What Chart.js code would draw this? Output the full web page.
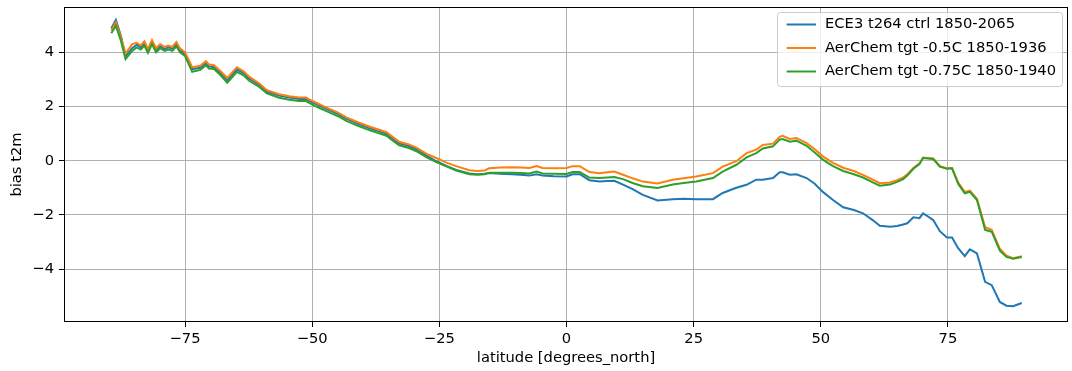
<!DOCTYPE html>
<html>
<head>
<meta charset="utf-8">
<script src="https://cdn.jsdelivr.net/npm/chart.js@4.4.1/dist/chart.umd.min.js"></script>
<style>
  body { margin: 0; background: #fff; }
</style>
</head>
<body>
<canvas id="myChart" width="1072" height="371"></canvas>
<script>
// latitude grid (degrees north)
var lats = [
  -89.5, -88.6, -87.6, -86.7, -85.4, -84.5, -83.7, -83, -82.3, -81.5,
  -80.7, -79.9, -79, -78.3, -77.5, -76.7, -76, -75, -73.6, -72,
  -70.9, -70.3, -69.3, -68, -66.7, -64.8, -63.5, -62.4, -60.4, -58.9,
  -56.5, -54.5, -52.6, -51.2, -50.6, -49, -47.2, -45, -43.3, -41,
  -38.8, -37, -35.4, -34, -32.9, -31, -29.5, -27.5, -25.6, -23.5,
  -21.7, -19.1, -17.5, -16.1, -15.2, -13, -10.6, -9, -7.3, -5.9,
  -4.7, -2.5, 0, 1.2, 2.6, 4.5, 6.5, 8, 9.4, 11.1,
  13, 15, 17.9, 20.9, 23, 25.5, 28.8, 30.7, 33.4, 35.4,
  37.3, 38.6, 40.6, 41.9, 42.5, 43.9, 45.2, 47.2, 48.8, 50.4,
  52.4, 54.4, 56.5, 58.3, 60.2, 61.6, 63.6, 65, 66.2, 67,
  68.2, 69.4, 70.1, 71, 72.1, 73.4, 74.8, 75.8, 77, 78.3,
  79.3, 80.7, 82.3, 83.6, 85.2, 86.5, 87.8, 89.5
];

// ECE3 t264 ctrl 1850-2065
var ctrl = [
  4.88, 5.2, 4.6, 3.85, 4.15, 4.28, 4.18, 4.33, 4.05, 4.38,
  4.08, 4.22, 4.12, 4.18, 4.13, 4.3, 4.08, 3.93, 3.38, 3.43,
  3.6, 3.48, 3.45, 3.23, 2.97, 3.37, 3.23, 3.03, 2.8, 2.55,
  2.4, 2.33, 2.28, 2.28, 2.21, 2.07, 1.91, 1.73, 1.55, 1.37,
  1.2, 1.1, 0.99, 0.79, 0.64, 0.54, 0.42, 0.19, -0.02, -0.2,
  -0.34, -0.47, -0.5, -0.48, -0.45, -0.48, -0.5, -0.52, -0.55, -0.5,
  -0.55, -0.57, -0.58, -0.5, -0.5, -0.72, -0.77, -0.75, -0.74, -0.88,
  -1.05, -1.26, -1.47, -1.42, -1.4, -1.42, -1.42, -1.19, -1.0, -0.89,
  -0.7, -0.7, -0.64, -0.43, -0.43, -0.52, -0.5, -0.64, -0.85, -1.15,
  -1.45, -1.72, -1.82, -1.94, -2.19, -2.4, -2.44, -2.41, -2.35, -2.31,
  -2.09, -2.12, -1.94, -2.05, -2.19, -2.6, -2.83, -2.83, -3.23, -3.52,
  -3.27, -3.42, -4.47, -4.59, -5.21, -5.35, -5.37, -5.25
];

// AerChem tgt -0.5C 1850-1936
var tgt05 = [
  4.8, 5.1, 4.55, 3.95, 4.3, 4.35, 4.25, 4.4, 4.12, 4.45,
  4.15, 4.3, 4.2, 4.25, 4.2, 4.38, 4.15, 4.0, 3.45, 3.5,
  3.67, 3.55, 3.52, 3.3, 3.05, 3.45, 3.3, 3.1, 2.85, 2.6,
  2.45, 2.38, 2.33, 2.33, 2.26, 2.12, 1.96, 1.78, 1.6, 1.42,
  1.26, 1.15, 1.05, 0.85, 0.7, 0.6, 0.48, 0.25, 0.1, -0.08,
  -0.2, -0.35, -0.38, -0.36, -0.28, -0.25, -0.24, -0.25, -0.27, -0.2,
  -0.27, -0.28, -0.27, -0.2, -0.2, -0.42, -0.46, -0.43, -0.4, -0.52,
  -0.65, -0.77, -0.84, -0.7, -0.65, -0.58, -0.46, -0.22, -0.02, 0.28,
  0.41, 0.58, 0.63, 0.88, 0.92, 0.8, 0.84, 0.65, 0.42, 0.16,
  -0.08, -0.26, -0.38, -0.52, -0.7, -0.83, -0.8, -0.72, -0.62, -0.5,
  -0.27, -0.1, 0.12, 0.1, 0.08, -0.2, -0.28, -0.27, -0.8, -1.15,
  -1.1, -1.4, -2.45, -2.55, -3.25, -3.5, -3.6, -3.52
];

// AerChem tgt -0.75C 1850-1940
var tgt075 = [
  4.7, 4.98, 4.42, 3.75, 4.05, 4.18, 4.1, 4.25, 3.98, 4.3,
  4.0, 4.15, 4.05, 4.1, 4.05, 4.22, 4.0, 3.86, 3.28, 3.35,
  3.52, 3.4, 3.38, 3.15, 2.88, 3.28, 3.15, 2.95, 2.72, 2.48,
  2.32, 2.25, 2.2, 2.2, 2.13, 1.98, 1.83, 1.65, 1.47, 1.29,
  1.13, 1.02, 0.92, 0.72, 0.57, 0.47, 0.35, 0.12, -0.05, -0.22,
  -0.36, -0.5, -0.52, -0.5, -0.44, -0.44, -0.44, -0.45, -0.47, -0.4,
  -0.47, -0.48, -0.49, -0.42, -0.42, -0.62, -0.64, -0.62, -0.6, -0.68,
  -0.82, -0.94, -1.01, -0.88, -0.82, -0.77, -0.64, -0.4, -0.15, 0.12,
  0.28, 0.45, 0.53, 0.78, 0.8, 0.7, 0.74, 0.55, 0.3, 0.04,
  -0.2, -0.38, -0.5, -0.62, -0.8, -0.92, -0.88, -0.78, -0.68, -0.55,
  -0.3, -0.12, 0.1, 0.08, 0.06, -0.22, -0.3, -0.28, -0.85, -1.2,
  -1.15, -1.45, -2.55, -2.62, -3.32, -3.55, -3.62, -3.55
];

var seriesLabels = ['ECE3 t264 ctrl 1850-2065', 'AerChem tgt -0.5C 1850-1936', 'AerChem tgt -0.75C 1850-1940'];
var xTicks = [-75, -50, -25, 0, 25, 50, 75];
var yTicks = [-4, -2, 0, 2, 4];

function pts(vals) {
  return vals.map(function (v, i) { return { x: lats[i], y: v }; });
}
function minus(v) { return String(v).replace('-', '\u2212'); }

var FONT = { family: '"DejaVu Sans"', size: 14.7 };

// matplotlib-like frame and legend in the upper right
var mplLegend = {
  id: 'mplLegend',
  afterDraw: function (chart) {
    var ctx = chart.ctx, a = chart.chartArea;
    ctx.save();
    // spines
    ctx.strokeStyle = '#000';
    ctx.lineWidth = 1;
    ctx.strokeRect(Math.round(a.left) + 0.5, Math.round(a.top) + 0.5,
      Math.round(a.right - a.left) - 1, Math.round(a.bottom - a.top) - 1);

    ctx.font = FONT.size + 'px "DejaVu Sans"';
    var ds = chart.data.datasets;
    var w = 0;
    ds.forEach(function (d) { w = Math.max(w, ctx.measureText(d.label).width); });
    var hl = 29.4, rowH = 23.5;
    var boxW = 10 + hl + 9 + w + 6;
    var boxH = 74;
    var x0 = a.right - 6 - boxW, y0 = a.top + 5;
    ctx.beginPath();
    ctx.roundRect(Math.round(x0) + 0.5, Math.round(y0) + 0.5, Math.round(boxW), boxH, 3);
    ctx.fillStyle = 'rgba(255,255,255,0.8)';
    ctx.fill();
    ctx.strokeStyle = '#cccccc';
    ctx.stroke();
    ds.forEach(function (d, i) {
      var cy = y0 + 12.5 + rowH * i;
      ctx.beginPath();
      ctx.strokeStyle = d.borderColor;
      ctx.lineWidth = 2;
      ctx.moveTo(x0 + 10, cy);
      ctx.lineTo(x0 + 10 + hl, cy);
      ctx.stroke();
      ctx.fillStyle = '#000';
      ctx.textBaseline = 'middle';
      ctx.fillText(d.label, x0 + 10 + hl + 9, cy);
    });
    ctx.restore();
  }
};

var ctx = document.getElementById('myChart').getContext('2d');
var chart = new Chart(ctx, {
  type: 'line',
  data: {
    datasets: [
      { label: seriesLabels[0], data: pts(ctrl), borderColor: '#1f77b4', order: 3 },
      { label: seriesLabels[1], data: pts(tgt05), borderColor: '#ff7f0e', order: 2 },
      { label: seriesLabels[2], data: pts(tgt075), borderColor: '#2ca02c', order: 1 }
    ]
  },
  options: {
    responsive: false,
    animation: false,
    devicePixelRatio: 1,
    layout: { padding: { left: 0, right: 4, top: 7, bottom: 0 } },
    elements: {
      line: { borderWidth: 2, tension: 0, fill: false },
      point: { radius: 0 }
    },
    plugins: {
      legend: { display: false },
      tooltip: { enabled: false }
    },
    scales: {
      x: {
        type: 'linear',
        min: -98.8,
        max: 98.6,
        afterBuildTicks: function (s) { s.ticks = xTicks.map(function (v) { return { value: v }; }); },
        afterFit: function (s) { s.height = 49; s.paddingLeft = 0; s.paddingRight = 0; },
        ticks: { color: '#000', font: FONT, padding: 3, maxRotation: 0, callback: function (v) { return minus(v); } },
        grid: { color: '#b0b0b0', lineWidth: 1, tickColor: '#000', tickLength: 5 },
        border: { display: false },
        title: { display: true, text: 'latitude [degrees_north]', color: '#000', font: FONT, padding: { top: 0, bottom: 4 } }
      },
      y: {
        min: -5.95,
        max: 5.67,
        afterBuildTicks: function (s) { s.ticks = yTicks.map(function (v) { return { value: v }; }); },
        afterFit: function (s) { s.width = 64; s.paddingTop = 0; s.paddingBottom = 0; },
        ticks: { color: '#000', font: FONT, padding: 5, callback: function (v) { return minus(v); } },
        grid: { color: '#b0b0b0', lineWidth: 1, tickColor: '#000', tickLength: 5 },
        border: { display: false },
        title: { display: true, text: 'bias t2m', color: '#000', font: FONT, padding: { top: 8, bottom: 0 } }
      }
    }
  },
  plugins: [mplLegend]
});
</script>
</body>
</html>
